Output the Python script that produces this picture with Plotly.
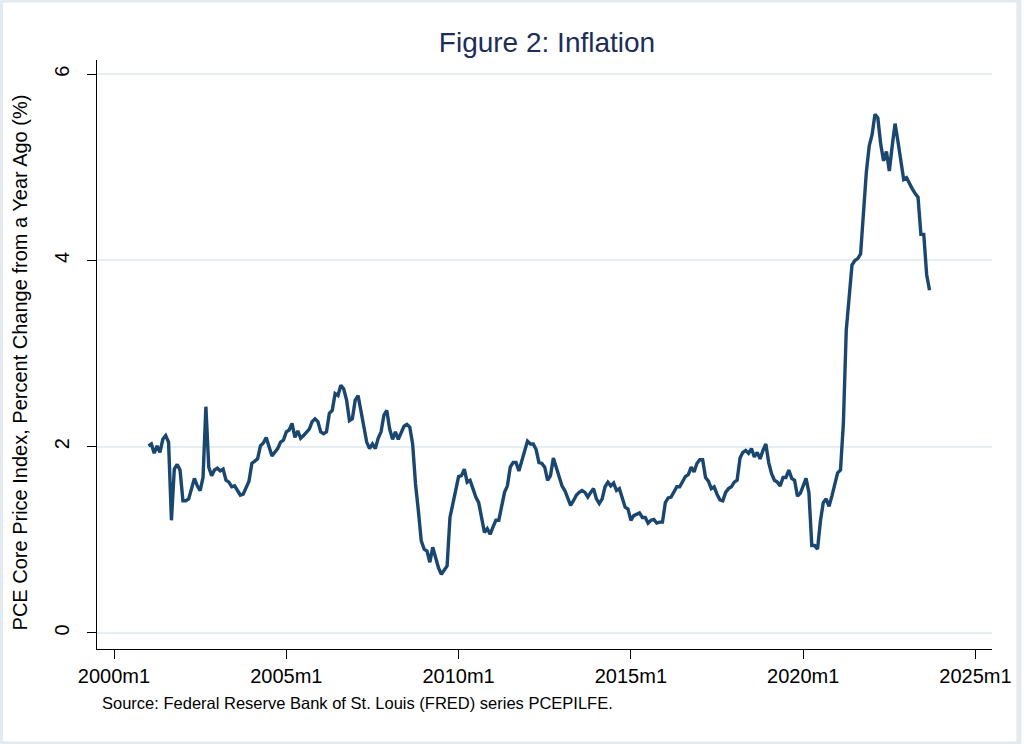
import plotly.graph_objects as go

# Core PCE price index, percent change from a year ago, monthly 2001m1-2023m9
years = list(range(2001, 2024))
v2001 = [2.01, 2.03, 1.93, 2.01, 1.94, 2.08, 2.12, 2.05, 1.21, 1.76, 1.81, 1.75]
v2002 = [1.42, 1.42, 1.44, 1.55, 1.66, 1.58, 1.53, 1.67, 2.43, 1.78, 1.69, 1.75]
v2003 = [1.77, 1.74, 1.76, 1.64, 1.62, 1.57, 1.58, 1.53, 1.48, 1.49, 1.57, 1.63]
v2004 = [1.82, 1.85, 1.87, 2.01, 2.04, 2.10, 2.00, 1.90, 1.94, 1.98, 2.05, 2.07]
v2005 = [2.16, 2.18, 2.25, 2.10, 2.17, 2.09, 2.12, 2.16, 2.19, 2.27, 2.30, 2.27]
v2006 = [2.16, 2.14, 2.16, 2.36, 2.39, 2.57, 2.55, 2.66, 2.62, 2.50, 2.28, 2.30]
v2007 = [2.50, 2.55, 2.37, 2.19, 2.05, 1.98, 2.03, 1.98, 2.09, 2.16, 2.34, 2.39]
v2008 = [2.19, 2.08, 2.16, 2.08, 2.14, 2.22, 2.24, 2.21, 2.03, 1.60, 1.31, 0.99]
v2009 = [0.90, 0.88, 0.76, 0.92, 0.81, 0.70, 0.63, 0.67, 0.72, 1.24, 1.39, 1.54]
v2010 = [1.68, 1.69, 1.76, 1.62, 1.64, 1.55, 1.46, 1.40, 1.26, 1.08, 1.12, 1.06]
v2011 = [1.14, 1.21, 1.21, 1.37, 1.51, 1.58, 1.78, 1.83, 1.83, 1.74, 1.85, 1.98]
v2012 = [2.06, 2.03, 2.03, 1.97, 1.83, 1.82, 1.78, 1.64, 1.69, 1.88, 1.78, 1.67]
v2013 = [1.58, 1.53, 1.45, 1.37, 1.42, 1.48, 1.51, 1.53, 1.51, 1.46, 1.51, 1.55]
v2014 = [1.44, 1.39, 1.44, 1.57, 1.62, 1.58, 1.61, 1.53, 1.55, 1.44, 1.35, 1.33]
v2015 = [1.21, 1.26, 1.28, 1.29, 1.24, 1.24, 1.18, 1.21, 1.22, 1.18, 1.19, 1.19]
v2016 = [1.40, 1.45, 1.46, 1.52, 1.57, 1.57, 1.62, 1.68, 1.70, 1.78, 1.73, 1.82]
v2017 = [1.86, 1.86, 1.67, 1.63, 1.55, 1.57, 1.49, 1.43, 1.42, 1.51, 1.55, 1.57]
v2018 = [1.62, 1.64, 1.88, 1.94, 1.96, 1.93, 1.98, 1.89, 1.94, 1.87, 1.96, 2.03]
v2019 = [1.83, 1.71, 1.64, 1.62, 1.58, 1.67, 1.67, 1.75, 1.66, 1.64, 1.47, 1.50]
v2020 = [1.58, 1.66, 1.51, 0.94, 0.94, 0.90, 1.20, 1.40, 1.44, 1.36, 1.47, 1.60]
v2021 = [1.72, 1.75, 2.25, 3.25, 3.62, 3.95, 4.00, 4.02, 4.07, 4.55, 4.95, 5.23]
v2022 = [5.35, 5.57, 5.53, 5.25, 5.07, 5.17, 4.96, 5.23, 5.47, 5.28, 5.08, 4.87]
v2023 = [4.89, 4.82, 4.77, 4.72, 4.68, 4.28, 4.28, 3.85, 3.68]

series_by_year = [v2001, v2002, v2003, v2004, v2005, v2006, v2007, v2008, v2009,
                  v2010, v2011, v2012, v2013, v2014, v2015, v2016, v2017, v2018,
                  v2019, v2020, v2021, v2022, v2023]

tick_years = [2000, 2005, 2010, 2015, 2020, 2025]
tick_labels = ["2000m1", "2005m1", "2010m1", "2015m1", "2020m1", "2025m1"]
y_ticks = [0, 2, 4, 6]

x, y = [], []
for yr, vals in zip(years, series_by_year):
    for m, v in enumerate(vals):
        x.append(yr + m / 12.0)
        y.append(v)

FONT = "Liberation Sans, Arial, Helvetica, sans-serif"
NAVY = "#1a476f"

fig = go.Figure()
fig.add_trace(go.Scatter(x=x, y=y, mode="lines",
                         line=dict(color=NAVY, width=3.4),
                         hoverinfo="x+y", showlegend=False))

L, R, T, B = 97, 27, 60, 95
W, H = 1024, 744
pw, ph = W - L - R, H - T - B

fig.update_layout(
    width=W, height=H,
    margin=dict(l=L, r=R, t=T, b=B),
    paper_bgcolor="white", plot_bgcolor="white",
    font=dict(family=FONT, color="black"),
    title=dict(text="Figure 2: Inflation", x=(L + pw / 2) / W, xanchor="center",
               y=1 - 42 / H, yanchor="middle",
               font=dict(size=28, color="#1c2d5a", family=FONT)),
    xaxis=dict(range=[1999.5065, 2025.48], tickmode="array", tickvals=tick_years,
               ticktext=tick_labels, ticks="outside", ticklen=9, tickwidth=1.2,
               tickcolor="black", showline=True, linecolor="black", linewidth=1.3,
               showgrid=False, zeroline=False, tickfont=dict(size=20, color="black")),
    yaxis=dict(range=[-0.172, 6.153], tickmode="array", tickvals=y_ticks,
               ticks="outside", ticklen=9, tickwidth=1.2, tickcolor="black",
               showline=True, linecolor="black", linewidth=1.3,
               showgrid=True, gridcolor="#e6eef1", gridwidth=1.5, zeroline=False,
               tickangle=-90, ticklabelstandoff=10,
               tickfont=dict(size=20, color="black")),
)

fig.add_annotation(text="PCE Core Price Index, Percent Change from a Year Ago (%)",
                   xref="paper", yref="paper", x=(20 - L) / pw, y=(H - B - 362) / ph,
                   xanchor="center", yanchor="middle", textangle=-90, showarrow=False,
                   font=dict(size=20, color="black", family=FONT))
fig.add_annotation(text="Source: Federal Reserve Bank of St. Louis (FRED) series PCEPILFE.",
                   xref="paper", yref="paper", x=(100 - L) / pw, y=-(703 - (H - B)) / ph,
                   xanchor="left", yanchor="middle", showarrow=False,
                   font=dict(size=16.5, color="black", family=FONT))

# light outer frame of the graph region
fig.add_shape(type="rect", xref="paper", yref="paper",
              x0=-L / pw, x1=(W - L) / pw, y0=-B / ph, y1=(H - B) / ph,
              line=dict(color="#e4ebf0", width=5), fillcolor="rgba(0,0,0,0)", layer="below")

fig.write_html("out.html", config={"displayModeBar": False},
               post_script="document.body.style.margin='0px';document.body.style.overflow='hidden';")
